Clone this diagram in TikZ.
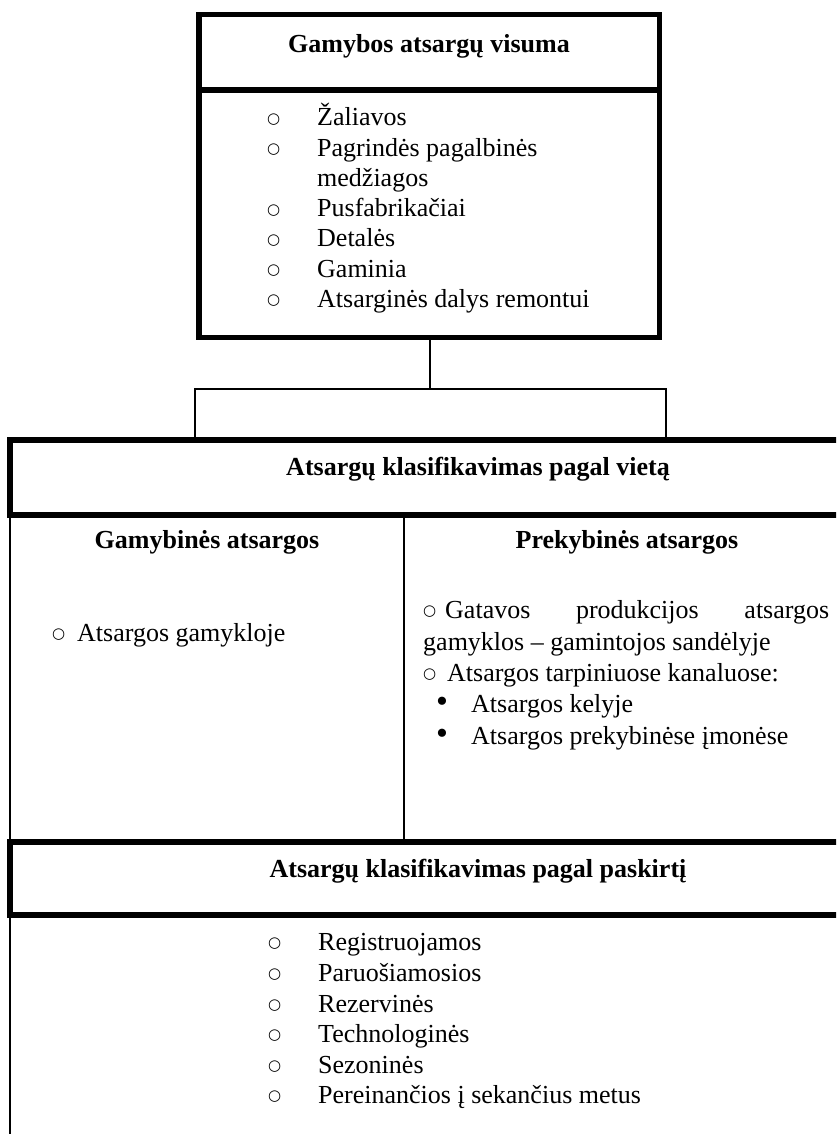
\documentclass[tikz,border=0pt]{standalone}
\usepackage{fontspec}
\setmainfont{Liberation Serif}
\newfontfamily\apskrfont{DejaVu Sans}
\begin{document}
\begin{tikzpicture}[x=1pt, y=-1pt, line join=miter, font=\fontsize{26}{30}\selectfont]
	%Puslapio dydis ir stiliai
	\def\W{836}     \def\H{1134}
	\def\kx{10}     \def\dx{404}
	\tikzset{
		storas/.style={line width=5.5pt},
		plonas/.style={line width=2pt},
		antraste/.style={anchor=base, inner sep=0pt, font=\fontsize{26}{30}\selectfont\bfseries},
		tekstas/.style={anchor=base west, inner sep=0pt},
		apskr/.style={anchor=base west, inner sep=0pt, yshift=2.5pt, font=\fontsize{15}{16}\selectfont\apskrfont},
		taskas/.style={anchor=base west, inner sep=0pt, font=\fontsize{34}{36}\selectfont}
	}
	\useasboundingbox (0,0) rectangle (\W,\H);
	\clip (0,0) rectangle (\W,\H);
	%Viršutinis blokas
	\draw[storas] (199,14.5) rectangle (659.5,337.5);
	\draw[storas] (199,90)--(659.5,90);
	\node[antraste] (visuma) at (429,53) {Gamybos atsargų visuma};
	\foreach \y/\t [count=\i] in {126/Žaliavos, 156.2/Pagrindės pagalbinės, 216.6/Pusfabrikačiai, 246.8/Detalės, 277/Gaminia, 307.2/Atsarginės dalys remontui}{
			\node[apskr] (vb\i) at (267,\y) {○};
			\node[tekstas] (v\i) at (317,\y) {\t};
		}
	\node[tekstas] (v2b) at (317,186.4) {medžiagos};
	%Jungtis tarp blokų
	\coordinate (stiebas) at (430,337.5);
	\coordinate (mazgas) at (430,389);
	\coordinate (kaire) at (195,389);
	\coordinate (desine) at (666,389);
	\coordinate (kaireA) at (195,440);
	\coordinate (desineA) at (666,440);
	\draw[plonas] (stiebas)--(mazgas);
	\draw[plonas] (kaireA)--(kaire)--(desine)--(desineA);
	%Klasifikavimas pagal vietą
	\draw[storas] (\kx,440) rectangle (880,515);
	\node[antraste] (vieta) at (478,475) {Atsargų klasifikavimas pagal vietą};
	\draw[plonas] (\kx,515)--(\kx,842);
	\draw[plonas] (\dx,515)--(\dx,842);
	\node[antraste] (gamybines) at (207,548) {Gamybinės atsargos};
	\node[antraste] (prekybines) at (627,548) {Prekybinės atsargos};
	\node[apskr] (gb1) at (52,641) {○};
	\node[tekstas] (g1) at (77,641) {Atsargos gamykloje};
	\node[apskr] (pb1) at (423,618) {○};
	\node[tekstas] (p1) at (445,618) {\makebox[384pt][s]{Gatavos produkcijos atsargos}};
	\node[tekstas] (p1b) at (423,650) {gamyklos – gamintojos sandėlyje};
	\node[apskr] (pb2) at (423,681) {○};
	\node[tekstas] (p2) at (447,681) {Atsargos tarpiniuose kanaluose:};
	\foreach \y/\t [count=\i] in {712/Atsargos kelyje, 744/Atsargos prekybinėse įmonėse}{
			\node[taskas] (pt\i) at (436,\y) {•};
			\node[tekstas] (pk\i) at (471,\y) {\t};
		}
	%Klasifikavimas pagal paskirtį
	\draw[storas] (\kx,842) rectangle (880,915);
	\node[antraste] (paskirtis) at (478,877) {Atsargų klasifikavimas pagal paskirtį};
	\draw[plonas] (\kx,915)--(\kx,\H);
	\foreach \y/\t [count=\i] in {950/Registruojamos, 981/Paruošiamosios, 1012/Rezervinės, 1042/Technologinės, 1073/Sezoninės, 1103/Pereinančios į sekančius metus}{
			\node[apskr] (sb\i) at (268,\y) {○};
			\node[tekstas] (s\i) at (318,\y) {\t};
		}
\end{tikzpicture}
\end{document}
